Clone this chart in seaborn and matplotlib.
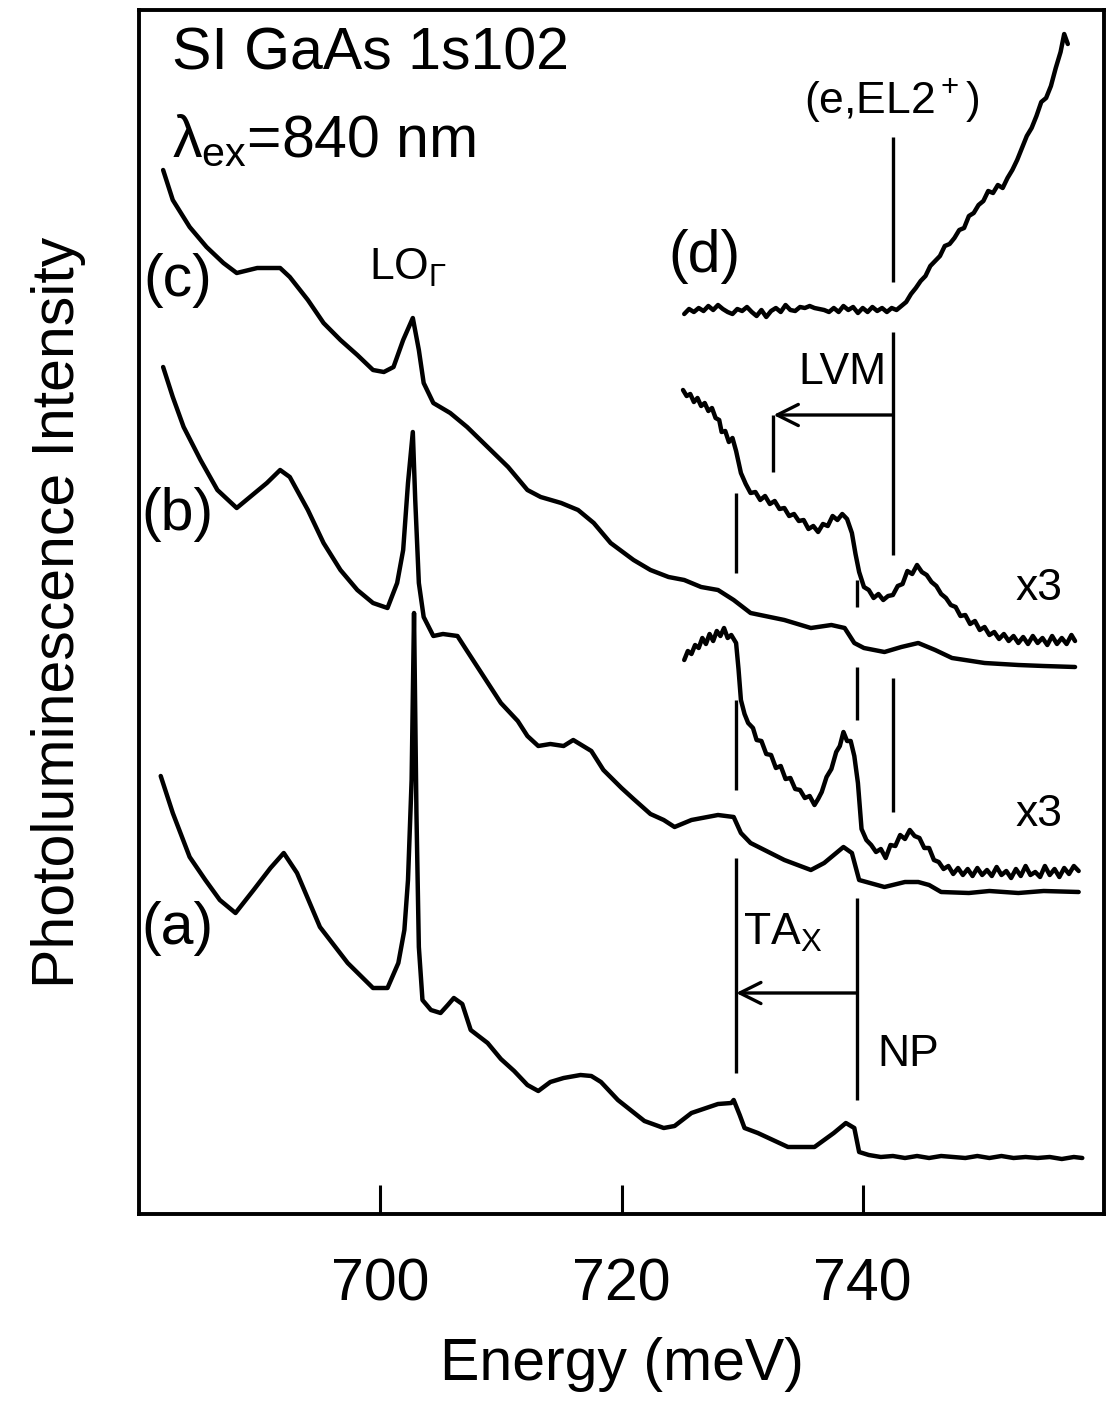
import matplotlib
matplotlib.use('Agg')
import matplotlib.pyplot as plt
import seaborn as sns
import pandas as pd
from matplotlib import font_manager

# ---------------- data (energy in meV, intensity in arbitrary units) ----------------
a_E = [681.8, 682.8, 684.2, 685.5, 686.7, 688.0, 689.5, 690.9, 692.0, 693.1, 695.0, 697.3,
       699.4, 700.6, 701.5, 702.0, 702.3, 702.6, 702.8, 703.0, 703.2, 703.5, 704.2, 705.0,
       705.6, 706.1, 706.8, 707.5, 708.9, 710.0, 711.1, 712.2, 713.1, 714.1, 715.2, 716.6,
       717.5, 718.3, 719.7, 721.9, 723.5, 724.4, 725.8, 728.0, 729.1, 729.3, 729.8, 730.2,
       731.3, 733.8, 736.0, 737.6, 738.6, 739.3, 739.7, 740.5, 741.5, 742.5, 743.5, 744.5,
       745.5, 746.5, 747.5, 748.5, 749.5, 750.5, 751.5, 752.5, 753.5, 754.5, 755.5, 756.5,
       757.5, 758.2]
a_I = [43.8, 40.1, 35.7, 33.4, 31.4, 30.1, 32.4, 34.6, 36.1, 34.1, 28.7, 25.1,
       22.6, 22.6, 25.1, 28.4, 33.4, 43.4, 60.1, 40.1, 26.7, 21.4, 20.4, 20.1,
       20.9, 21.6, 21.0, 18.4, 17.1, 15.5, 14.3, 12.9, 12.3, 13.2, 13.6, 13.9,
       13.8, 13.2, 11.4, 9.3, 8.6, 8.8, 10.1, 11.0, 11.1, 11.4, 9.9, 8.6,
       8.1, 6.7, 6.7, 8.1, 9.1, 8.6, 6.2, 5.9, 5.7, 5.8, 5.6, 5.8,
       5.6, 5.8, 5.7, 5.6, 5.8, 5.6, 5.8, 5.6, 5.7, 5.6, 5.7, 5.5,
       5.7, 5.6]

b_E = [682.0, 682.8, 683.7, 685.1, 686.5, 688.1, 689.2, 690.6, 691.7, 692.5, 694.0, 695.3,
       696.7, 698.1, 699.4, 700.6, 701.4, 701.9, 702.3, 702.7, 702.9, 703.2, 703.6, 704.4,
       705.2, 706.4, 707.2, 708.6, 710.0, 711.4, 712.2, 713.1, 714.1, 715.2, 716.0, 717.5,
       718.5, 720.0, 721.0, 722.4, 723.5, 724.4, 725.8, 728.0, 729.3, 729.9, 730.7, 733.5,
       735.7, 736.8, 738.4, 739.1, 739.7, 741.8, 743.5, 744.6, 745.5, 746.5, 748.8, 750.5,
       752.9, 755.0, 757.9]
b_I = [84.7, 81.7, 78.7, 75.4, 72.4, 70.6, 71.7, 73.1, 74.4, 73.7, 70.4, 67.1,
       64.4, 62.4, 61.1, 60.6, 63.1, 66.4, 73.1, 78.2, 71.4, 63.1, 59.7, 57.8,
       58.0, 57.8, 56.3, 53.7, 51.1, 49.3, 47.8, 46.8, 47.0, 46.8, 47.4, 46.3,
       44.4, 42.6, 41.5, 40.0, 39.4, 38.7, 39.4, 39.9, 39.7, 38.1, 37.1, 35.4,
       34.4, 35.1, 36.7, 36.1, 33.4, 32.7, 33.2, 33.2, 32.9, 32.2, 32.1, 32.3,
       32.1, 32.3, 32.2]

c_E = [682.0, 682.8, 684.2, 685.6, 687.0, 688.1, 689.8, 691.7, 692.5, 694.0, 695.3, 696.7,
       698.1, 699.4, 700.3, 701.1, 701.9, 702.7, 703.2, 703.6, 704.4, 705.8, 707.2, 708.9,
       710.6, 712.2, 713.3, 715.0, 716.4, 717.7, 719.1, 721.0, 722.4, 723.9, 725.2, 726.6,
       728.0, 729.3, 730.7, 733.5, 735.7, 737.4, 738.5, 739.3, 740.1, 741.8, 743.2, 744.6,
       746.0, 747.4, 750.1, 752.9, 755.0, 757.6]
c_I = [104.4, 101.4, 98.7, 96.7, 95.1, 94.1, 94.6, 94.6, 93.7, 91.4, 89.1, 87.4,
       85.9, 84.4, 84.2, 84.7, 87.4, 89.6, 86.4, 83.1, 81.1, 80.1, 78.7, 76.7,
       74.7, 72.4, 71.7, 71.1, 70.4, 69.1, 67.1, 65.4, 64.4, 63.7, 63.4, 62.7,
       62.4, 61.4, 60.1, 59.4, 58.6, 58.9, 58.6, 57.1, 56.6, 56.2, 56.7, 57.1,
       56.4, 55.6, 55.1, 54.9, 54.8, 54.7]

bx3_E = [725.2, 725.5, 725.8, 726.1, 726.4, 726.7, 727.0, 727.3, 727.6, 727.9, 728.2, 728.5,
         728.8, 729.1, 729.5, 729.7, 729.9, 730.2, 730.5, 730.9, 731.2, 731.6, 732.0, 732.4,
         732.8, 733.2, 733.6, 734.0, 734.4, 734.8, 735.2, 735.6, 736.0, 736.3, 736.6, 737.0,
         737.4, 737.8, 738.1, 738.4, 738.7, 739.0, 739.3, 739.6, 739.9, 740.3, 740.7, 741.1,
         741.5, 741.9, 742.3, 742.7, 743.1, 743.5, 743.9, 744.3, 744.7, 745.1, 745.5, 745.9,
         746.3, 746.7, 747.1, 747.5, 747.9, 748.3, 748.7, 749.1, 749.5, 749.9, 750.3, 750.7,
         751.1, 751.5, 751.9, 752.3, 752.7, 753.1, 753.5, 753.9, 754.3, 754.7, 755.1, 755.5,
         755.9, 756.3, 756.7, 757.1, 757.5, 757.9]
bx3_I = [55.4, 56.3, 56.0, 56.9, 56.6, 57.6, 57.0, 58.0, 57.3, 58.3, 57.8, 58.6,
         57.6, 57.9, 57.1, 54.5, 51.4, 50.0, 49.1, 48.6, 47.4, 47.3, 46.0, 45.9,
         44.6, 44.8, 43.5, 43.6, 42.5, 42.4, 41.6, 41.8, 40.9, 41.5, 42.2, 43.7,
         44.5, 46.2, 46.8, 48.2, 47.3, 47.3, 45.8, 43.1, 38.5, 37.4, 36.9, 36.2,
         36.5, 35.6, 36.9, 36.8, 37.9, 37.5, 38.4, 37.8, 37.6, 36.6, 36.6, 35.4,
         35.2, 34.5, 34.8, 34.0, 34.6, 33.9, 34.5, 33.8, 34.6, 33.9, 34.4, 33.8,
         34.7, 33.9, 34.3, 33.6, 34.5, 33.8, 34.8, 33.9, 34.2, 33.7, 34.8, 33.9,
         34.5, 33.7, 34.6, 34.0, 34.8, 34.3]

cx3_E = [725.1, 725.4, 725.7, 726.0, 726.3, 726.6, 726.9, 727.2, 727.5, 727.8, 728.1, 728.3,
         728.6, 728.9, 729.2, 729.5, 729.9, 730.3, 730.7, 731.1, 731.5, 731.9, 732.3, 732.7,
         733.1, 733.5, 733.9, 734.3, 734.7, 735.1, 735.5, 735.9, 736.3, 736.7, 737.1, 737.5,
         737.9, 738.3, 738.7, 739.1, 739.4, 739.7, 740.1, 740.5, 740.9, 741.3, 741.7, 742.1,
         742.5, 742.9, 743.3, 743.7, 744.1, 744.5, 744.9, 745.3, 745.7, 746.1, 746.5, 746.9,
         747.3, 747.7, 748.1, 748.5, 748.9, 749.3, 749.7, 750.1, 750.5, 750.9, 751.3, 751.7,
         752.1, 752.5, 752.9, 753.3, 753.7, 754.1, 754.5, 754.9, 755.3, 755.7, 756.1, 756.5,
         756.9, 757.3, 757.6]
cx3_I = [82.4, 81.8, 82.0, 81.2, 81.6, 80.8, 81.1, 80.3, 80.6, 79.6, 79.4, 78.2,
         78.3, 77.2, 77.6, 76.3, 74.1, 73.0, 72.1, 72.2, 71.4, 71.8, 71.0, 71.3,
         70.5, 70.6, 69.8, 70.0, 69.3, 69.4, 68.5, 68.8, 68.2, 69.0, 68.8, 69.8,
         69.4, 70.0, 69.5, 68.1, 66.0, 64.2, 62.7, 62.4, 61.6, 62.0, 61.4, 61.8,
         61.9, 62.8, 63.0, 64.3, 64.0, 64.9, 64.2, 63.9, 63.2, 62.8, 62.0, 61.6,
         60.9, 60.7, 59.8, 59.9, 59.0, 59.3, 58.4, 58.7, 57.9, 58.2, 57.5, 58.0,
         57.3, 57.8, 57.1, 57.7, 57.0, 57.8, 57.1, 57.6, 56.9, 57.8, 57.0, 57.6,
         57.0, 57.9, 57.3]

d_E = [725.2, 725.6, 726.0, 726.4, 726.8, 727.2, 727.6, 728.0, 728.4, 728.8, 729.2, 729.6,
       730.0, 730.4, 730.8, 731.2, 731.6, 732.0, 732.4, 732.8, 733.2, 733.6, 734.0, 734.4,
       734.8, 735.2, 735.6, 736.0, 736.4, 736.8, 737.2, 737.6, 738.0, 738.4, 738.8, 739.2,
       739.6, 740.0, 740.4, 740.8, 741.2, 741.6, 742.0, 742.4, 742.8, 743.2, 743.6, 744.0,
       744.4, 744.8, 745.2, 745.6, 746.0, 746.4, 746.8, 747.2, 747.6, 748.0, 748.4, 748.8,
       749.2, 749.6, 750.0, 750.4, 750.8, 751.2, 751.6, 752.0, 752.4, 752.8, 753.2, 753.6,
       754.0, 754.4, 754.8, 755.2, 755.6, 756.0, 756.4, 756.7, 757.0]
d_I = [90.0, 90.5, 90.2, 90.6, 90.3, 90.8, 90.4, 90.9, 90.5, 90.2, 90.0, 90.5,
       90.3, 90.7, 90.2, 89.8, 90.4, 89.7, 90.3, 90.6, 90.2, 90.9, 90.4, 90.3,
       90.7, 90.6, 90.8, 90.6, 90.5, 90.4, 90.2, 90.6, 90.2, 90.8, 90.4, 90.7,
       90.1, 90.6, 90.2, 90.7, 90.3, 90.6, 90.2, 90.6, 90.4, 90.8, 91.2, 92.0,
       92.6, 93.3, 93.8, 94.8, 95.3, 95.8, 96.8, 97.0, 97.6, 98.4, 98.6, 99.8,
       100.1, 100.9, 101.3, 102.3, 102.1, 102.9, 102.6, 103.6, 104.4, 105.4, 106.6, 107.8,
       108.6, 109.8, 111.2, 111.6, 112.8, 114.6, 116.2, 118.0, 117.0]

# marker lines (energy, list of (low, high) intensity spans)
EL2_E = 742.5
EL2_spans = [(93.2, 107.7), (65.9, 88.2), (40.2, 53.6)]
LVM_end_E = 732.6
LVM_level = 79.9
LVM_drop = 74.2
TA_E = 729.5
TA_spans = [(64.1, 72.1), (42.4, 51.4), (14.1, 35.6)]
NP_E = 739.5
NP_spans = [(60.7, 63.4), (49.4, 54.7), (11.4, 31.6)]
TA_level = 22.1

x_ticks = [700, 720, 740]

# ---------------- style ----------------
sns.set_style('white')
names = {f.name for f in font_manager.fontManager.ttflist}
if 'Liberation Sans Narrow' in names:
    FAM, BIG, MED = 'Liberation Sans Narrow', 47, 37
else:
    FAM, BIG, MED = 'Liberation Sans', 42.5, 32
plt.rcParams['font.family'] = [FAM, 'DejaVu Sans']
plt.rcParams['mathtext.fontset'] = 'custom'
plt.rcParams['mathtext.rm'] = FAM
plt.rcParams['mathtext.it'] = FAM
plt.rcParams['mathtext.bf'] = FAM
plt.rcParams['text.color'] = 'black'
plt.rcParams['axes.labelcolor'] = 'black'
plt.rcParams['xtick.color'] = 'black'
plt.rcParams['ytick.color'] = 'black'

fig = plt.figure(figsize=(11.07, 14.05), dpi=100)
ax = fig.add_axes([139 / 1107, (1405 - 1214) / 1405, (1104 - 139) / 1107, (1214 - 10) / 1405])

LW = 3.2
for E, I in [(a_E, a_I), (b_E, b_I), (c_E, c_I), (bx3_E, bx3_I), (cx3_E, cx3_I), (d_E, d_I)]:
    df = pd.DataFrame({'E': E, 'I': I})
    sns.lineplot(data=df, x='E', y='I', ax=ax, color='black', lw=LW, sort=False, estimator=None)

VL = 2.4
for lo, hi in EL2_spans:
    ax.vlines(EL2_E, lo, hi, color='black', lw=VL)
for lo, hi in TA_spans:
    ax.vlines(TA_E, lo, hi, color='black', lw=VL)
for lo, hi in NP_spans:
    ax.vlines(NP_E, lo, hi, color='black', lw=VL)

# LVM arrow
ax.annotate('', xy=(LVM_end_E, LVM_level), xytext=(EL2_E, LVM_level),
            arrowprops=dict(arrowstyle='->', lw=VL, color='black', mutation_scale=38,
                            shrinkA=0, shrinkB=0))
ax.vlines(LVM_end_E, LVM_drop, LVM_level, color='black', lw=VL)
# TA arrow
ax.annotate('', xy=(TA_E, TA_level), xytext=(NP_E, TA_level),
            arrowprops=dict(arrowstyle='->', lw=VL, color='black', mutation_scale=38,
                            shrinkA=0, shrinkB=0))

# texts
ax.text(682.7, 116.0, 'SI GaAs 1s102', fontsize=BIG, ha='left', va='center')
ax.text(682.7, 107.3, r'$\lambda_{\rm ex}$=840 nm', fontsize=BIG, ha='left', va='center')
ax.text(683.2, 93.4, '(c)', fontsize=BIG, ha='center', va='center')
ax.text(683.2, 70.0, '(b)', fontsize=BIG, ha='center', va='center')
ax.text(683.2, 28.6, '(a)', fontsize=BIG, ha='center', va='center')
ax.text(726.9, 95.8, '(d)', fontsize=BIG, ha='center', va='center')
ax.text(702.3, 94.6, r'LO$_\Gamma$', fontsize=MED, ha='center', va='center')
ax.text(742.4, 111.4, r'(e,EL2$^+$)', fontsize=MED, ha='center', va='center')
ax.text(738.3, 84.2, 'LVM', fontsize=MED, ha='center', va='center')
ax.text(754.6, 62.6, 'x3', fontsize=MED, ha='center', va='center')
ax.text(754.6, 39.9, 'x3', fontsize=MED, ha='center', va='center')
ax.text(733.4, 28.1, r'TA$_{\rm X}$', fontsize=MED, ha='center', va='center')
ax.text(743.8, 15.9, 'NP', fontsize=MED, ha='center', va='center')

ax.set_xlim(680, 760)
ax.set_ylim(0, 120.4)
ax.set_xticks(x_ticks)
ax.set_xticklabels([str(t) for t in x_ticks])
ax.set_yticks([])
ax.tick_params(axis='x', direction='in', length=21, width=2.2, labelsize=BIG, pad=31,
               bottom=True, top=False)
for sp in ax.spines.values():
    sp.set_linewidth(2.8)
    sp.set_color('black')
ax.set_xlabel('Energy (meV)', fontsize=BIG, labelpad=18)
ax.set_ylabel('Photoluminescence Intensity', fontsize=BIG, labelpad=38)

fig.savefig('out.png', dpi=100)
